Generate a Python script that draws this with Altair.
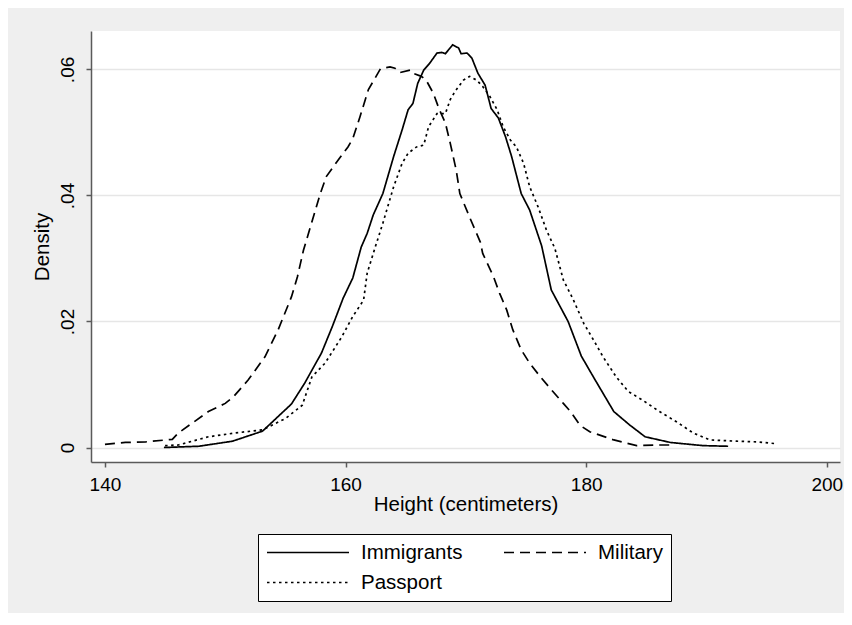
import altair as alt
import pandas as pd

series_names = ["Immigrants", "Military", "Passport"]

imm_h = [144.9, 147.8, 150.6, 153.1, 155.5, 156.6, 158.0, 158.9, 159.8, 160.6, 161.3, 161.8,
         162.3, 163.1, 164.0, 164.7, 165.2, 165.6, 166.0, 166.5, 167.0, 167.6, 168.0, 168.3,
         168.9, 169.4, 169.6, 170.1, 170.5, 171.0, 171.6, 172.1, 172.7, 173.3, 173.8, 174.6,
         175.3, 176.3, 177.1, 178.5, 179.6, 180.6, 182.3, 183.6, 184.9, 187.0, 189.7, 191.8]
imm_d = [0.0000, 0.0002, 0.0010, 0.0026, 0.0069, 0.0102, 0.0150, 0.0192, 0.0237, 0.0269, 0.0318, 0.0340,
         0.0369, 0.0403, 0.0462, 0.0504, 0.0536, 0.0546, 0.0578, 0.0599, 0.0610, 0.0626, 0.0627, 0.0625,
         0.0639, 0.0634, 0.0625, 0.0626, 0.0618, 0.0594, 0.0575, 0.0538, 0.0523, 0.0493, 0.0462, 0.0403,
         0.0377, 0.0320, 0.0250, 0.0200, 0.0145, 0.0112, 0.0057, 0.0036, 0.0017, 0.0008, 0.0003, 0.0002]

mil_h = [140.0, 141.7, 143.4, 145.6, 146.1, 147.2, 148.6, 150.0, 150.7, 151.9, 153.3, 154.4,
         155.5, 156.0, 156.5, 157.0, 157.9, 158.4, 159.0, 159.8, 160.2, 160.6, 161.2, 161.9,
         162.9, 163.7, 164.1, 164.5, 165.4, 165.6, 166.3, 166.7, 167.3, 167.8, 168.3, 168.7,
         169.2, 169.5, 170.3, 171.2, 171.4, 172.3, 172.8, 173.4, 173.9, 174.6, 175.3, 176.2,
         177.0, 178.1, 178.7, 179.5, 180.3, 182.3, 184.2, 185.9, 187.0]
mil_d = [0.0005, 0.0008, 0.0009, 0.0013, 0.0023, 0.0038, 0.0057, 0.0070, 0.0081, 0.0107, 0.0144, 0.0187,
         0.0239, 0.0271, 0.0313, 0.0345, 0.0403, 0.0430, 0.0446, 0.0467, 0.0477, 0.0490, 0.0525, 0.0568,
         0.0601, 0.0604, 0.0602, 0.0595, 0.0599, 0.0594, 0.0589, 0.0583, 0.0562, 0.0536, 0.0515, 0.0483,
         0.0440, 0.0403, 0.0366, 0.0326, 0.0308, 0.0271, 0.0245, 0.0218, 0.0187, 0.0155, 0.0134, 0.0112,
         0.0094, 0.0070, 0.0057, 0.0035, 0.0025, 0.0012, 0.0003, 0.0004, 0.0004]

pas_h = [145.0, 146.1, 148.6, 150.8, 153.1, 155.0, 156.4, 157.2, 158.3, 159.7, 160.6, 161.5,
         161.8, 162.5, 163.1, 164.0, 164.7, 165.2, 165.9, 166.5, 166.9, 167.6, 168.3, 168.7,
         169.1, 169.8, 170.3, 170.9, 171.4, 172.0, 172.6, 173.1, 173.7, 174.2, 174.8, 175.3,
         176.0, 176.7, 177.4, 178.1, 178.9, 179.8, 180.6, 181.4, 182.5, 183.5, 184.7, 186.1,
         187.5, 188.9, 190.3, 192.5, 194.2, 195.8]
pas_d = [0.0003, 0.0004, 0.0017, 0.0023, 0.0028, 0.0046, 0.0067, 0.0112, 0.0134, 0.0176, 0.0208, 0.0234,
         0.0277, 0.0320, 0.0356, 0.0414, 0.0451, 0.0467, 0.0477, 0.0480, 0.0509, 0.0530, 0.0530, 0.0552,
         0.0565, 0.0583, 0.0589, 0.0583, 0.0573, 0.0557, 0.0536, 0.0509, 0.0488, 0.0477, 0.0451, 0.0414,
         0.0382, 0.0345, 0.0316, 0.0266, 0.0236, 0.0197, 0.0171, 0.0144, 0.0112, 0.0089, 0.0075, 0.0057,
         0.0041, 0.0023, 0.0012, 0.0010, 0.0009, 0.0006]

x_ticks = [140, 160, 180, 200]
y_ticks = [0, 0.02, 0.04, 0.06]

rows = []
for name, hs, ds in zip(series_names, [imm_h, mil_h, pas_h], [imm_d, mil_d, pas_d]):
    for i, (h, d) in enumerate(zip(hs, ds)):
        rows.append({"series": name, "height": h, "density": d, "idx": i})
df = pd.DataFrame(rows)

FONT = "Arial"
TICK_FS = 19
TITLE_FS = 20.5

chart = alt.Chart(df).mark_line(color="black", strokeWidth=1.7, clip=True).encode(
    x=alt.X("height:Q",
            scale=alt.Scale(domain=[138.84, 201.1], nice=False, zero=False),
            axis=alt.Axis(values=x_ticks, title="Height (centimeters)", grid=False,
                          labelPadding=8, titlePadding=0)),
    y=alt.Y("density:Q",
            scale=alt.Scale(domain=[-0.0023, 0.0661], nice=False, zero=False),
            axis=alt.Axis(values=y_ticks, title="Density", grid=True,
                          labelExpr="datum.value == 0 ? '0' : replace(format(datum.value, '.2f'), '0.', '.')",
                          labelAngle=-90, labelAlign="center", labelBaseline="bottom",
                          labelPadding=9, titlePadding=6)),
    strokeDash=alt.StrokeDash("series:N",
                              scale=alt.Scale(domain=series_names,
                                              range=[[1, 0], [10, 6], [2.5, 3.5]]),
                              legend=alt.Legend(orient="none", legendX=167, legendY=503,
                                                columns=2, direction="horizontal", title=None,
                                                fillColor="white", strokeColor="black",
                                                padding=8, symbolType="stroke",
                                                symbolSize=6724, symbolStrokeWidth=1.7,
                                                symbolStrokeColor="black",
                                                labelFont=FONT, labelFontSize=TITLE_FS,
                                                labelColor="black", labelOffset=11,
                                                clipHeight=21, rowPadding=9,
                                                columnPadding=40)),
    order="idx:Q",
).properties(
    width=749,
    height=431,
    autosize=alt.AutoSizeParams(type="none"),
    padding={"left": 83, "top": 23, "right": 4, "bottom": 151},
    background="#efefef",
).configure_view(
    fill="white", stroke=None
).configure_axis(
    labelFont=FONT, labelFontSize=TICK_FS, labelColor="black",
    titleFont=FONT, titleFontSize=TITLE_FS, titleFontWeight="normal", titleColor="black",
    domainColor="#5a5a5a", domainWidth=1.5,
    tickColor="#5a5a5a", tickWidth=1.5, tickSize=5,
    gridColor="#e6e6e6", gridWidth=1.6,
)

chart.save("out.html", embed_options={"renderer": "svg", "actions": False})
